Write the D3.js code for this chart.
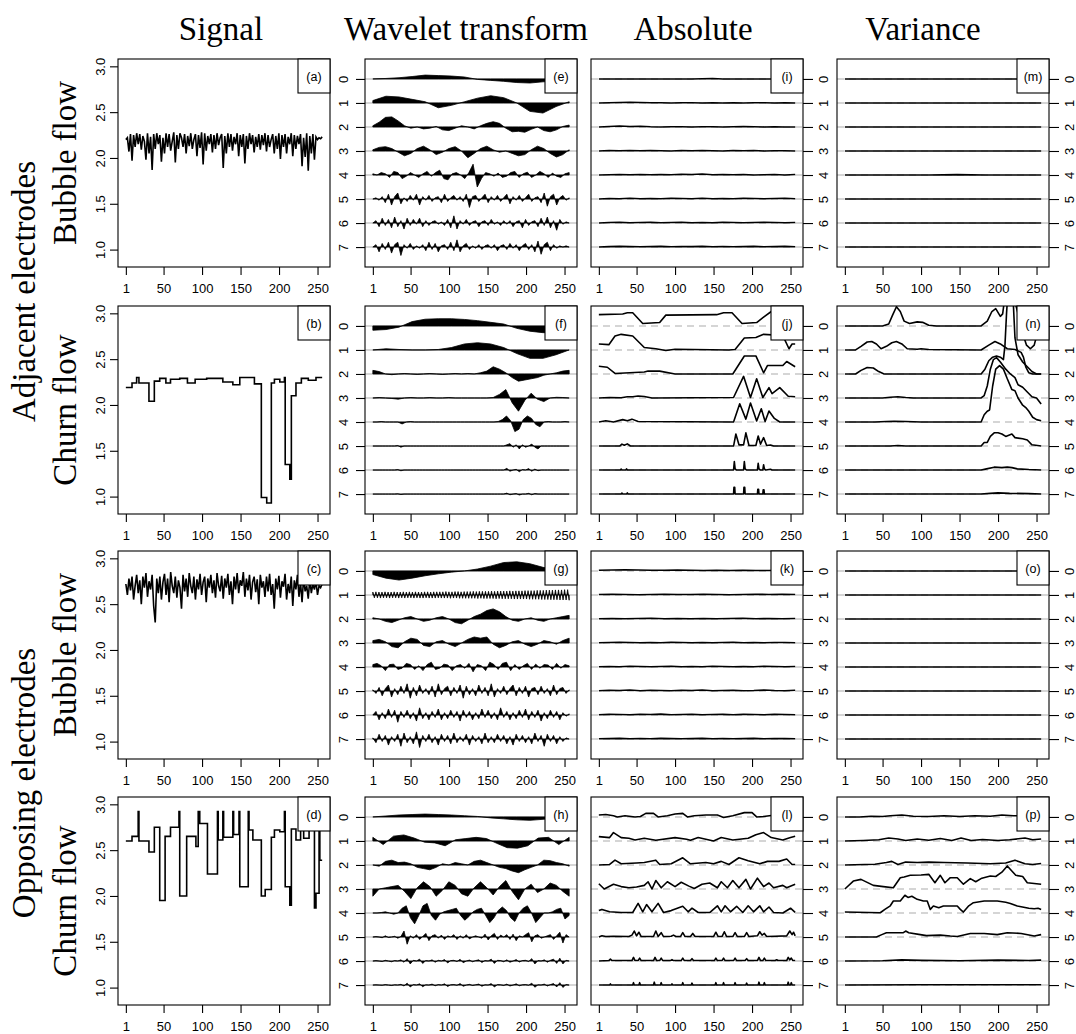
<!DOCTYPE html>
<html><head><meta charset="utf-8">
<script src="https://cdn.jsdelivr.net/npm/d3@7"></script>
<style>body{margin:0;background:#fff}</style>
</head><body><script>
// ---------------- DATA ----------------
const colTitles=["Signal","Wavelet transform","Absolute","Variance"];
const groupLabels=["Adjacent electrodes","Opposing electrodes"];
const rowLabels=["Bubble flow","Churn flow","Bubble flow","Churn flow"];
const panelLetters=["a","b","c","d","e","f","g","h","i","j","k","l","m","n","o","p"];
const xTicks=[1,50,100,150,200,250];
const sigTicks=[1.0,1.5,2.0,2.5,3.0];
const levels=[0,1,2,3,4,5,6,7];

// signals (a),(c): evenly sampled values over samples 1..256
const signalA=[2.20,2.22,2.07,2.26,1.97,2.25,2.12,2.27,2.15,2.26,2.09,2.24,2.18,1.98,2.27,2.05,2.23,1.87,2.26,2.10,2.27,2.15,2.25,1.96,2.22,2.05,2.27,2.12,2.26,2.08,2.18,2.28,1.95,2.25,2.10,2.27,2.22,2.12,2.26,2.05,2.24,2.13,2.27,2.10,2.20,2.26,2.02,2.25,2.11,2.28,1.93,2.27,2.08,2.24,2.15,2.26,2.06,2.25,2.10,2.27,2.14,2.22,2.26,1.89,2.24,2.05,2.27,2.12,2.26,2.08,2.23,2.15,2.27,2.02,2.25,2.12,2.26,1.94,2.24,2.10,2.27,2.15,2.25,2.06,2.23,2.12,2.26,2.09,2.25,2.14,2.27,2.07,2.25,2.12,2.20,2.26,2.05,2.24,2.10,2.27,1.99,2.25,2.12,2.26,2.05,2.23,2.15,2.27,2.02,2.25,2.10,2.24,2.15,2.26,1.91,2.22,2.01,2.27,1.86,2.24,2.05,2.26,1.98,2.23,2.20,2.22,2.21,2.23];
const signalC=[2.72,2.60,2.78,2.65,2.80,2.55,2.70,2.82,2.62,2.76,2.50,2.80,2.68,2.84,2.58,2.75,2.66,2.82,2.48,2.30,2.78,2.62,2.80,2.55,2.74,2.83,2.60,2.78,2.52,2.85,2.70,2.62,2.80,2.57,2.76,2.68,2.45,2.82,2.64,2.78,2.58,2.84,2.70,2.62,2.80,2.55,2.77,2.66,2.83,2.60,2.74,2.80,2.52,2.78,2.68,2.82,2.62,2.76,2.57,2.84,2.70,2.64,2.81,2.56,2.78,2.68,2.83,2.60,2.75,2.50,2.80,2.66,2.84,2.62,2.76,2.70,2.85,2.58,2.78,2.65,2.82,2.55,2.74,2.80,2.63,2.77,2.50,2.82,2.68,2.75,2.58,2.80,2.64,2.83,2.60,2.72,2.45,2.78,2.66,2.81,2.57,2.75,2.69,2.83,2.55,2.72,2.62,2.80,2.48,2.76,2.66,2.82,2.58,2.74,2.52,2.79,2.64,2.70,2.56,2.77,2.62,2.72,2.66,2.75,2.60,2.70,2.68,2.72];
// signals (b),(d): piecewise constant — segment start sample and value
const signalBStart=[1,9,15,18,31,38,45,53,59,71,81,91,106,127,140,149,168,177,184,190,194,201,207,208,214,216,222,229,238,248];
const signalBValue=[2.19,2.24,2.30,2.24,2.04,2.26,2.29,2.24,2.28,2.29,2.24,2.28,2.29,2.25,2.22,2.30,2.23,0.99,0.93,2.24,2.28,2.25,2.30,1.35,1.19,2.10,2.24,2.29,2.27,2.30];
const signalDStart=[1,9,17,18,31,38,45,52,59,70,71,80,92,95,97,107,120,121,127,128,140,141,148,149,160,161,166,177,182,190,194,201,207,208,214,216,222,228,232,239,246,248,252,253];
const signalDValue=[2.60,2.65,2.92,2.60,2.48,2.75,1.95,2.65,2.75,2.92,2.00,2.65,2.54,2.92,2.79,2.24,2.92,2.61,2.92,2.64,2.92,2.67,2.92,2.10,2.92,2.72,2.61,2.00,2.07,2.64,2.72,2.70,2.92,2.10,1.90,2.73,2.61,2.73,2.63,2.73,1.87,2.03,2.92,2.39];

// wavelet coefficients per level (in units of level spacing, + = up), evenly sampled 1..256
const waveE=[
[0.0,0.02,0.05,0.1,0.16,0.14,0.12,0.08,-0.02,-0.06,-0.1,-0.15,-0.17,-0.12,-0.1,-0.08],
[0.1,0.28,0.25,0.15,0.05,-0.2,-0.1,0.05,0.2,0.3,0.22,0.0,-0.35,-0.42,-0.15,0.05],
[0.05,0.2,0.4,0.42,0.25,0.05,-0.05,0.0,-0.08,-0.05,0.02,-0.12,-0.15,-0.05,0.05,0.0,-0.08,0.05,0.15,0.22,0.15,-0.05,-0.2,-0.18,-0.22,-0.1,0.0,-0.15,-0.2,-0.12,0.02,0.08],
[0.05,0.15,0.18,0.1,-0.05,-0.2,-0.1,0.1,0.2,0.05,-0.15,-0.05,0.1,0.18,0.0,-0.28,-0.1,0.1,0.2,0.05,-0.05,0.0,-0.1,-0.2,-0.15,0.05,0.2,0.1,-0.1,-0.25,-0.15,0.05],
[0.05,0.0,0.1,0.05,-0.1,0.15,0.1,-0.15,-0.05,0.1,0.0,-0.1,0.05,0.15,-0.05,0.1,0.2,-0.15,-0.2,0.05,0.1,0.0,-0.15,0.1,0.45,-0.5,-0.15,0.1,0.05,-0.05,0.08,-0.1,-0.05,0.1,0.15,-0.1,0.05,0.12,-0.1,0.0,0.15,0.05,-0.1,0.08,-0.05,-0.1,0.05,0.1],
[0.0,0.05,-0.05,0.1,-0.15,0.2,-0.25,0.1,0.25,-0.2,0.05,-0.1,0.15,-0.05,0.2,-0.25,0.1,-0.05,0.15,-0.1,0.05,0.1,-0.15,0.2,-0.1,0.05,0.15,-0.05,0.1,-0.1,0.2,-0.35,0.1,0.15,-0.1,0.05,0.2,-0.15,0.1,-0.05,0.15,-0.1,0.05,0.2,-0.2,0.1,-0.05,0.15,-0.1,0.05,0.2,-0.1,0.05,0.1,-0.15,0.25,-0.3,0.1,0.2,-0.25,0.05,0.15,-0.05,0.05],
[0.0,0.1,-0.15,0.2,-0.1,0.15,-0.2,0.25,-0.15,0.1,-0.25,0.2,-0.1,0.15,-0.05,0.2,-0.15,0.1,-0.1,0.05,0.1,-0.05,0.05,-0.1,0.15,-0.2,0.3,-0.25,0.1,-0.05,0.15,-0.1,0.05,0.1,-0.15,0.05,0.1,-0.1,0.15,-0.05,0.05,-0.1,0.1,-0.05,0.1,-0.15,0.05,0.1,-0.2,0.15,-0.1,0.05,0.1,-0.15,0.2,-0.1,0.25,-0.2,0.1,-0.3,0.15,-0.05,0.05,0.0],
[0.0,0.1,-0.2,0.15,-0.1,0.2,-0.25,0.1,0.2,-0.35,0.1,-0.05,0.15,-0.1,0.05,-0.05,0.1,-0.15,0.2,-0.1,0.15,-0.2,0.05,0.1,-0.1,0.2,-0.15,0.3,-0.2,0.05,0.15,-0.1,0.05,-0.05,0.1,-0.1,0.05,0.1,-0.05,0.1,-0.15,0.05,0.1,-0.1,0.15,-0.05,0.1,-0.15,0.05,0.15,-0.1,0.1,-0.2,0.25,-0.3,0.1,0.2,-0.15,0.1,-0.05,0.05,0.0,0.05,0.0]];
const waveF=[
[-0.18,-0.15,-0.05,0.18,0.28,0.3,0.3,0.27,0.22,0.15,0.08,-0.1,-0.22,-0.28,-0.28,-0.25],
[0.0,0.05,0.02,0.0,0.0,0.02,0.1,0.25,0.3,0.25,0.1,-0.15,-0.35,-0.35,-0.2,0.0],
[0.15,0.1,0.0,-0.03,0.0,0.02,0.0,-0.02,0.0,0.02,0.0,-0.02,0.0,0.02,0.0,0.02,0.0,0.05,0.12,0.3,0.2,0.05,-0.15,-0.3,-0.25,-0.2,-0.15,-0.05,0.0,0.05,0.12,0.15],
[0.0,0.02,0.0,-0.02,-0.05,0.0,0.02,0.0,0.0,0.02,0.0,0.0,0.02,0.0,0.0,0.0,0.0,0.0,0.0,0.02,0.15,0.35,-0.2,-0.55,-0.1,0.2,-0.05,-0.15,0.0,0.03,0.02,0.0],
[0,0,0.02,0,0,0,0,-0.08,0,0.02,0,0,0,0,0,0,0,0,0,0,0,0,0,0,0,0,0,0,0,0,0.02,0.1,0.25,0.05,-0.4,-0.3,0.1,0.25,0.15,-0.1,-0.2,0.0,0.02,0,0,0,0.02,0],
[0,0,0,0,0,0,0,0,0.02,-0.05,0,0,0,0,0,0,0,0,0,0,0,0,0,0,0,0,0,0,0,0,0,0,0,0,0,0,0,0,0,0,0,0,0,0.05,0.1,-0.05,0.05,-0.12,0.05,-0.05,0,0.08,-0.05,-0.12,0,0,0,0,0,0,0,0,0,0],
[0,0,0,0,0,0,0,0,0.02,-0.03,0,0,0,0,0,0,0,0,0,0,0,0,0,0,0,0,0,0,0,0,0,0,0,0,0,0,0,0,0,0,0,0,0,0.07,-0.05,0,0.03,-0.07,0.02,0,0.06,-0.05,0.04,-0.03,0,0,0,0,0,0,0,0,0,0],
[0,0,0,0,0,0,0,0,0.01,-0.02,0,0,0,0,0,0,0,0,0,0,0,0,0,0,0,0,0,0,0,0,0,0,0,0,0,0,0,0,0,0,0,0,0,0.04,-0.03,0,0.02,-0.04,0,0,0.03,-0.03,0.02,0,0,0,0,0,0,0,0,0,0,0]];
const waveG=[
[-0.15,-0.3,-0.38,-0.3,-0.2,-0.12,-0.05,0.0,0.08,0.2,0.35,0.38,0.3,0.15,0.05,0.0],
[0.12,-0.12,0.13,-0.12,0.12,-0.13,0.12,-0.12,0.13,-0.12,0.12,-0.13,0.12,-0.12,0.13,-0.12,0.12,-0.13,0.12,-0.12,0.13,-0.13,0.12,-0.12,0.13,-0.12,0.12,-0.13,0.13,-0.12,0.12,-0.13,
 0.12,-0.13,0.13,-0.12,0.13,-0.13,0.12,-0.13,0.13,-0.13,0.13,-0.12,0.13,-0.13,0.13,-0.13,0.14,-0.13,0.13,-0.14,0.13,-0.13,0.14,-0.13,0.14,-0.14,0.13,-0.14,0.14,-0.14,0.14,-0.14,
 0.14,-0.14,0.15,-0.14,0.14,-0.15,0.15,-0.14,0.15,-0.15,0.15,-0.15,0.15,-0.15,0.16,-0.15,0.15,-0.16,0.16,-0.15,0.16,-0.16,0.16,-0.16,0.16,-0.16,0.17,-0.16,0.16,-0.17,0.17,-0.17,
 0.17,-0.17,0.17,-0.17,0.18,-0.17,0.18,-0.18,0.18,-0.18,0.18,-0.18,0.19,-0.18,0.19,-0.19,0.19,-0.19,0.2,-0.19,0.2,-0.2,0.2,-0.2,0.21,-0.2,0.21,-0.21,0.21,-0.21,0.22,-0.21,0.22,-0.22],
[0.05,0.0,-0.1,-0.15,-0.05,0.05,0.1,0.0,-0.1,-0.05,0.05,0.1,0.0,-0.15,-0.2,-0.05,0.1,0.2,0.35,0.42,0.3,0.1,-0.05,-0.1,0.0,0.05,-0.05,-0.1,0.0,0.05,0.1,0.15],
[0.1,0.15,0.05,-0.15,-0.2,0.05,0.2,0.15,-0.1,-0.15,0.05,0.1,-0.05,-0.15,0.0,0.15,0.25,0.2,0.25,-0.05,-0.2,-0.1,0.05,0.1,-0.05,-0.15,-0.05,0.1,0.05,-0.05,0.1,0.2],
[0.1,0.15,0.05,-0.15,0.1,0.12,-0.1,-0.05,0.15,0.1,-0.1,0.05,-0.15,0.1,0.2,-0.1,-0.05,0.12,0.08,-0.15,0.05,0.1,-0.05,0.15,-0.2,0.1,0.05,-0.15,0.2,0.1,-0.1,0.15,0.2,-0.15,0.1,-0.1,0.05,0.15,-0.1,0.12,-0.05,0.1,0.08,-0.1,0.15,-0.05,0.1,0.05],
[0.05,-0.1,0.15,-0.2,0.1,0.25,-0.25,0.1,-0.15,0.2,-0.1,0.3,-0.3,0.15,-0.2,0.25,-0.1,0.1,-0.15,0.2,-0.25,0.3,-0.15,0.1,0.2,-0.2,0.15,-0.1,0.25,-0.3,0.2,-0.15,0.1,-0.2,0.25,-0.1,0.15,-0.2,0.3,-0.25,0.1,-0.1,0.2,-0.15,0.1,0.25,-0.2,0.15,-0.1,0.2,-0.25,0.1,0.15,-0.15,0.2,-0.1,0.1,-0.2,0.25,-0.15,0.1,0.15,-0.1,0.05],
[0.0,0.15,-0.2,0.1,-0.15,0.25,-0.1,0.2,-0.3,0.15,-0.1,0.2,-0.15,0.1,-0.25,0.3,-0.15,0.1,-0.2,0.15,-0.1,0.25,-0.2,0.1,-0.15,0.2,-0.1,0.15,-0.25,0.2,-0.1,0.15,-0.2,0.1,-0.15,0.25,-0.1,0.2,-0.15,0.1,-0.2,0.3,-0.1,0.15,-0.2,0.1,-0.15,0.2,-0.1,0.25,-0.2,0.15,-0.1,0.2,-0.25,0.1,-0.15,0.2,-0.1,0.15,-0.2,0.1,-0.05,0.05],
[0.05,-0.15,0.2,-0.1,0.15,-0.25,0.1,-0.1,0.2,-0.3,0.25,-0.15,0.1,-0.2,0.3,-0.35,0.15,-0.1,0.2,-0.15,0.1,-0.25,0.2,-0.1,0.15,-0.2,0.25,-0.15,0.1,-0.1,0.2,-0.25,0.15,-0.1,0.1,-0.2,0.25,-0.15,0.1,-0.15,0.2,-0.1,0.15,-0.2,0.1,-0.25,0.2,-0.1,0.15,-0.15,0.1,-0.2,0.25,-0.1,0.15,-0.3,0.2,-0.1,0.15,-0.2,0.1,-0.1,0.05,0.0]];
const waveH=[
[0.0,0.04,0.08,0.1,0.12,0.1,0.08,0.05,0.02,-0.04,-0.08,-0.12,-0.14,-0.1,-0.05,-0.03],
[0.15,-0.15,0.2,0.25,0.12,-0.05,-0.08,-0.2,0.05,0.1,0.15,0.1,-0.1,-0.28,-0.3,-0.2,0.12,0.15,-0.15,0.15],
[0.0,-0.05,0.15,0.2,0.1,0.12,0.05,-0.1,-0.15,-0.2,-0.1,0.05,0.0,0.1,0.05,0.0,0.15,0.2,0.1,0.0,-0.1,-0.15,-0.25,-0.32,-0.2,-0.1,0.0,0.2,0.18,0.1,0.05,-0.05],
[-0.3,0.0,0.05,0.1,0.15,-0.1,-0.4,0.05,0.3,0.1,-0.3,-0.05,0.3,0.15,-0.2,-0.3,0.05,0.3,0.05,-0.25,0.1,0.35,-0.1,-0.45,0.0,0.2,-0.15,0.0,0.25,0.15,-0.1,-0.3],
[0.0,0.0,0.02,0.05,0.0,-0.05,0.0,0.2,0.3,-0.2,-0.45,-0.1,0.3,0.4,-0.1,-0.3,-0.05,0.05,0.1,0.15,0.2,-0.1,-0.3,-0.15,0.05,0.15,0.2,-0.1,-0.4,-0.2,0.1,0.25,0.1,-0.2,-0.35,0.0,0.2,0.3,0.0,-0.4,-0.2,0.0,0.0,0.05,0.15,0.2,-0.25,-0.1],
[0,0.02,0,-0.03,0.05,-0.02,0,0.03,-0.05,0.02,0.25,-0.3,0.05,-0.05,0.1,-0.1,0.02,0.15,-0.15,0.05,0.1,-0.05,0.08,-0.1,0.05,0,0.1,-0.1,0.05,-0.05,0.1,-0.08,0,0.05,0,-0.05,0.12,-0.12,0.05,0.15,-0.1,0.08,0,0.1,-0.1,0.12,-0.15,0.05,0,0.1,0.18,-0.2,0.05,0.1,-0.05,0,0.05,0.1,-0.1,0.05,0.2,-0.25,0.1,0],
[0,0.02,0,-0.02,0.03,0,-0.03,0.02,0,0.05,-0.05,0.1,-0.12,0.03,0,0.08,-0.1,0.02,0,0.05,-0.05,0.03,0,0.06,-0.08,0.02,0.03,-0.02,0.07,-0.07,0,0.04,-0.03,0.02,0.05,-0.06,0.02,0,0.08,-0.1,0.03,0.02,-0.03,0.05,-0.05,0,0.06,-0.04,0.02,0.03,-0.02,0.1,-0.12,0.02,0,0.05,-0.05,0.03,0.08,-0.1,0.12,-0.12,0.03,0],
[0,0.01,0,-0.01,0.02,0,-0.02,0.01,0,0.03,-0.04,0.08,-0.08,0.02,0,0.05,-0.07,0.01,0,0.04,-0.03,0.02,0,0.05,-0.06,0.01,0.02,-0.01,0.06,-0.05,0,0.03,-0.02,0.01,0.04,-0.05,0.01,0,0.06,-0.08,0.02,0.01,-0.02,0.04,-0.04,0,0.05,-0.03,0.01,0.02,-0.01,0.08,-0.09,0.01,0,0.04,-0.04,0.02,0.06,-0.08,0.1,-0.1,0.02,0]];

// absolute / variance curves: either evenly sampled values, or [sample, value] breakpoints
const absI=[
[0,0,0,0,0,0,0,0,0,0,0.01,0.02,0,0,0,0,0,0,0,0],
[0,0.01,0.02,0.03,0.02,0.01,0.01,0,0.01,0.01,0,0.01,0,0.01,0,0.01,0.01,0,0.01,0],
[0,0.02,0.04,0.02,0.03,0.01,0,0.01,0.01,0,0.01,0.01,0,0.01,0.02,0.01,0,0.01,0,0],
[0,0.02,0.01,0.02,0.01,0.02,0.01,0,0.02,0.01,0.02,0.01,0,0.02,0.01,0.02,0,0.01,0.01,0],
[0,0.01,0.02,0.01,0.02,0.01,0.02,0.01,0.03,0.02,0.04,0.01,0.02,0.01,0.02,0,0.01,0.02,0,0.02],
[0,0.02,0.01,0.03,0.01,0.02,0.01,0.03,0.02,0.01,0.03,0.01,0.02,0.01,0.03,0.02,0.01,0.02,0.03,0.01],
[0,0.02,0.03,0.01,0.02,0.03,0.01,0.02,0.03,0.01,0.02,0.01,0.03,0.02,0.01,0.02,0.03,0.02,0.01,0.02],
[0,0.02,0.03,0.02,0.01,0.02,0.03,0.01,0.02,0.02,0.03,0.01,0.02,0.01,0.02,0.03,0.01,0.02,0.03,0.01]];
const absJ=[
[[1,0.47],[32,0.5],[38,0.55],[45,0.55],[58,0.1],[80,0.14],[88,0.45],[154,0.47],[163,0.55],[174,0.55],[187,0.1],[206,0.14],[215,0.37],[225,0.6],[245,0.55],[256,0.5]],
[[1,0.25],[14,0.22],[22,0.58],[30,0.65],[45,0.58],[60,0.1],[75,0.05],[88,-0.02],[100,0.03],[170,0.0],[178,0.02],[190,0.5],[205,0.52],[215,0.65],[240,0.6],[248,0.05],[252,0.25],[256,0.25]],
[[1,0.32],[12,0.28],[22,0.02],[60,0.08],[65,0.12],[80,0.12],[100,0.0],[175,0.0],[190,0.75],[205,0.75],[215,0.05],[220,0.35],[240,0.35],[245,0.52],[256,0.3]],
[[1,0],[15,0.02],[30,0.01],[38,0.05],[45,0.05],[52,0.08],[60,0.06],[70,0.0],[176,0.02],[189,0.9],[198,0.02],[206,0.8],[214,0.02],[222,0.43],[226,0.18],[236,0.43],[247,0.07],[256,0.05]],
[[1,0],[10,0.05],[20,0.0],[32,0.1],[38,0.05],[44,0.12],[52,0.02],[176,0.0],[184,0.76],[192,0.12],[198,0.79],[206,0.04],[212,0.55],[217,0.02],[222,0.46],[229,0.15],[236,0.0],[256,0.0]],
[[1,0],[28,0.0],[31,0.08],[34,0.03],[38,0.09],[42,0.0],[176,0.0],[179,0.5],[183,0.05],[189,0.05],[192,0.55],[196,0.02],[205,0.02],[208,0.42],[211,0.08],[215,0.35],[219,0.02],[224,0.04],[228,0.0],[256,0.0]],
[[1,0],[29,0],[30,0.04],[31,0],[36,0],[37,0.05],[38,0],[176,0],[177,0.35],[178,0.05],[180,0],[189,0],[190,0.35],[191,0.05],[193,0],[207,0],[208,0.28],[209,0.05],[211,0],[214,0],[215,0.22],[216,0.05],[218,0],[224,0.03],[226,0],[256,0]],
[[1,0],[30,0],[31,0.04],[32,0],[37,0],[38,0.05],[39,0],[176,0],[176.5,0.28],[177.5,0.28],[178,0],[189,0],[189.5,0.28],[190.5,0.28],[191,0],[207,0],[207.5,0.2],[208.5,0.2],[209,0],[214,0],[214.5,0.18],[215.5,0.18],[216,0],[256,0]]];
const absK=[
[0.03,0.04,0.05,0.04,0.03,0.03,0.04,0.03,0.02,0.03,0.02,0.03,0.02,0.02,0.03,0.03],
[0.02,0.03,0.02,0.01,0.02,0.03,0.02,0.02,0.03,0.02,0.01,0.02,0.03,0.02,0.03,0.02],
[0.01,0.02,0.01,0.02,0.03,0.01,0.02,0.01,0.02,0.01,0.02,0.03,0.01,0.02,0.01,0.02],
[0.01,0.02,0.03,0.02,0.01,0.02,0.01,0.03,0.02,0.01,0.02,0.01,0.02,0.03,0.01,0.02,0.01,0.02,0.02,0.01],
[0.01,0.02,0.01,0.03,0.02,0.01,0.02,0.03,0.01,0.02,0.01,0.03,0.02,0.01,0.02,0.01,0.03,0.02,0.01,0.02],
[0.01,0.03,0.02,0.04,0.01,0.03,0.02,0.01,0.03,0.02,0.04,0.01,0.02,0.03,0.01,0.02,0.04,0.02,0.01,0.03],
[0.01,0.03,0.02,0.01,0.03,0.02,0.04,0.01,0.02,0.03,0.01,0.02,0.03,0.01,0.03,0.02,0.01,0.03,0.02,0.01],
[0.01,0.02,0.03,0.01,0.02,0.01,0.03,0.02,0.01,0.02,0.03,0.01,0.02,0.01,0.02,0.03,0.01,0.02,0.02,0.01]];
const absL=[
[[1,0.08],[10,0.1],[20,0.05],[25,0],[35,0.05],[48,0],[55,0.02],[62,0.15],[72,0.15],[78,0],[90,0.05],[100,0.12],[110,0.15],[116,0],[125,0.05],[140,0.08],[155,0.08],[163,-0.02],[175,0.05],[190,0.18],[200,0.18],[206,0],[215,0.02],[230,0.08],[240,0.05],[256,0.05]],
[[1,0.18],[15,0.14],[20,0.35],[30,0.14],[40,0.11],[48,0.04],[60,0.11],[75,0.03],[100,0.14],[115,0.07],[120,0.03],[130,0.14],[140,0.07],[150,0],[160,0.14],[175,0.04],[195,0.11],[205,0.26],[215,0.35],[225,0.14],[240,0.04],[250,0.14],[256,0.2]],
[[1,0],[15,0.02],[22,0.2],[30,0.05],[50,0.08],[60,0.1],[75,0.2],[80,0.02],[95,0.05],[110,0.3],[120,0.05],[140,0.1],[150,0.05],[160,0.15],[170,0.02],[183,0.3],[195,0.18],[210,0.05],[220,0.15],[235,0.15],[245,0.25],[252,0.02],[256,0.02]],
[[1,0.22],[8,0],[20,0.2],[30,0.1],[40,0.05],[50,0.08],[60,0.15],[65,0.3],[70,0],[75,0.35],[82,0.05],[90,0.3],[100,0.1],[108,0.28],[118,0.12],[125,0.02],[135,0.2],[145,0.25],[155,0.05],[160,0.3],[168,0.05],[175,0.35],[183,0.05],[192,0.4],[198,0],[207,0.45],[215,0.1],[222,0.25],[228,0.05],[240,0.15],[245,0.05],[256,0.2]],
[[1,0.1],[5,0.15],[15,0.05],[30,0.02],[45,0.02],[52,0.4],[58,0.05],[63,0.35],[70,0.05],[78,0.4],[85,0.02],[95,0.1],[110,0.28],[117,0.05],[122,0.2],[130,0.02],[145,0.02],[155,0.3],[160,0.05],[165,0.3],[172,0.05],[180,0.28],[188,0.02],[195,0.3],[202,0.05],[210,0.3],[215,0.05],[222,0.25],[228,0.02],[240,0],[250,0.2],[256,0.03]],
[[1,0],[5,0.05],[10,0.02],[20,0.03],[40,0.02],[44,0.08],[47,0.25],[50,0.05],[53,0.2],[56,0.02],[72,0.02],[75,0.25],[78,0.02],[82,0.18],[85,0.02],[95,0.03],[98,0.08],[101,0.02],[107,0.02],[110,0.18],[113,0.02],[120,0.02],[123,0.15],[126,0.02],[150,0.02],[153,0.2],[156,0.02],[161,0.02],[164,0.22],[167,0.02],[175,0.02],[178,0.18],[181,0.02],[190,0.02],[193,0.18],[196,0.02],[207,0.05],[210,0.22],[213,0.08],[216,0.15],[219,0.02],[230,0.03],[245,0.05],[249,0.25],[252,0.1],[254,0.2],[256,0.05]],
[[1,0],[14,0.02],[16,0.08],[18,0.02],[44,0.02],[46,0.15],[48,0.02],[52,0.02],[54,0.12],[56,0.02],[72,0.02],[74,0.15],[76,0.02],[80,0.02],[82,0.12],[84,0.02],[94,0.02],[96,0.06],[98,0.02],[108,0.02],[110,0.12],[112,0.02],[120,0.02],[122,0.1],[124,0.02],[151,0.02],[153,0.12],[155,0.02],[161,0.02],[163,0.12],[165,0.02],[176,0.02],[178,0.12],[180,0.02],[191,0.02],[193,0.1],[195,0.02],[207,0.02],[209,0.15],[211,0.02],[214,0.02],[216,0.12],[218,0.02],[230,0.02],[232,0.05],[234,0.02],[245,0.02],[247,0.15],[249,0.05],[251,0.12],[253,0.02],[256,0.02]],
[[1,0],[15,0],[16,0.05],[17,0],[45,0],[46,0.1],[47,0],[53,0],[54,0.1],[55,0],[72,0],[73,0.12],[74,0],[81,0],[82,0.1],[83,0],[95,0],[96,0.05],[97,0],[109,0],[110,0.1],[111,0],[121,0],[122,0.08],[123,0],[152,0],[153,0.1],[154,0],[162,0],[163,0.1],[164,0],[177,0],[178,0.1],[179,0],[192,0],[193,0.08],[194,0],[208,0],[209,0.12],[210,0],[215,0],[216,0.1],[217,0],[246,0],[247,0.12],[248,0],[250,0],[251,0.1],[252,0],[256,0]]];
const varM=[[0,0,0,0],[0,0,0,0],[0,0,0,0],[0,0,0,0],[0,0,0,0,0.015,0,0,0],[0,0,0,0],[0,0,0,0],[0,0,0,0]];
const varN=[
[[1,0],[50,0],[58,0.08],[63,0.45],[68,0.8],[73,0.6],[78,0.2],[85,0.1],[95,0.17],[102,0.15],[110,0.03],[120,0],[178,0],[186,0.2],[192,0.6],[197,0.72],[203,0.4],[206,0.5],[210,1.5],[214,3],[219,3],[222,1],[226,0.5],[232,-0.3],[237,-0.8],[242,-0.95],[247,-0.8],[251,-0.3],[256,0.5]],
[[1,0],[15,0],[22,0.15],[30,0.33],[36,0.35],[42,0.25],[48,0.05],[55,0.15],[62,0.3],[68,0.35],[75,0.25],[82,0.05],[95,0.03],[100,0.05],[110,0.02],[178,0],[188,0.2],[196,0.35],[203,0.25],[212,0.05],[222,0.02],[230,-0.1],[233,-0.3],[236,-0.7],[240,-0.95],[245,-1.0],[256,-1.0]],
[[1,0],[15,0],[22,0.15],[30,0.27],[38,0.25],[45,0.1],[52,0],[178,0],[183,0.2],[188,0.55],[193,0.7],[198,0.75],[203,0.7],[207,0.6],[209,1.2],[211,2.5],[213,3.5],[219,3.5],[222,1.5],[226,0.8],[232,0.5],[238,0.3],[244,0.1],[250,0],[256,0]],
[[1,0],[50,0],[60,0.03],[70,0.05],[80,0.02],[90,0],[178,0],[182,0.1],[186,0.5],[190,1.2],[194,1.6],[198,1.68],[203,1.5],[210,1.2],[216,1.0],[222,0.85],[226,0.55],[232,0.45],[238,0.25],[244,0.05],[250,0.0],[256,-0.25]],
[[1,0],[40,0],[55,0.02],[65,0.03],[80,0.02],[100,0],[178,0],[182,0.3],[186,0.45],[189,0.5],[193,1.5],[197,2.2],[202,2.35],[207,2.2],[212,1.8],[218,1.35],[222,1.3],[226,1.0],[232,0.7],[236,0.6],[240,0.45],[245,0.2],[250,0.1],[256,0.05]],
[[1,0],[60,0],[70,0.02],[80,0],[178,0],[182,0.15],[186,0.15],[190,0.4],[195,0.55],[200,0.55],[205,0.5],[210,0.4],[214,0.45],[218,0.5],[222,0.35],[226,0.33],[232,0.3],[238,0.25],[244,0.05],[256,0]],
[[1,0],[178,0],[185,0.05],[195,0.12],[205,0.1],[212,0.12],[218,0.1],[225,0.05],[240,0.02],[256,0]],
[[1,0],[178,0],[190,0.03],[200,0.05],[215,0.03],[240,0.02],[256,0]]];
const varO=[[0,0,0,0],[0,0,0,0],[0,0,0,0],[0,0,0,0],[0,0,0,0],[0,0,0,0],[0,0,0,0],[0,0,0,0]];
const varP=[
[[1,0],[20,0],[35,0.03],[50,0.02],[60,0.05],[75,0.08],[90,0.03],[110,0.02],[130,0.05],[150,0.02],[170,0.05],[190,0.03],[205,0.08],[220,0.05],[256,0.06]],
[[1,0],[25,0.02],[45,0.05],[58,0.12],[70,0.08],[80,0.02],[95,0.08],[110,0.03],[125,0.1],[140,0.02],[152,0.12],[165,0.02],[180,0.06],[200,0.02],[215,0.05],[235,0.12],[245,0.05],[256,0.08]],
[[1,0],[40,0.03],[55,0.1],[62,0.15],[70,0.02],[80,0.12],[95,0.1],[110,0.12],[130,0.1],[160,0.08],[190,0.05],[210,0.08],[222,0.2],[235,0.05],[245,0.02],[256,0.06]],
[[1,0],[12,0.33],[22,0.4],[38,0.15],[51,0.1],[64,0.05],[73,0.47],[78,0.5],[86,0.57],[100,0.58],[110,0.61],[118,0.26],[125,0.57],[131,0.26],[138,0.47],[147,0.47],[155,0.2],[164,0.43],[171,0.3],[179,0.45],[190,0.54],[197,0.52],[205,0.7],[212,0.96],[223,0.57],[232,0.52],[238,0.26],[256,0.2]],
[[1,0.04],[47,0.01],[53,0.15],[60,0.3],[64,0.5],[73,0.5],[79,0.74],[83,0.65],[88,0.7],[95,0.57],[103,0.5],[108,0.5],[112,0.15],[116,0.29],[123,0.22],[129,0.29],[147,0.29],[151,0.15],[155,0.04],[162,0.3],[168,0.43],[182,0.5],[199,0.5],[210,0.45],[216,0.4],[225,0.29],[240,0.2],[247,0.18],[252,0.2],[256,0.15]],
[[1,0],[42,0],[49,0.1],[55,0.18],[77,0.18],[80,0.25],[84,0.18],[99,0.1],[107,0.06],[125,0.08],[138,0.04],[147,0.02],[164,0.15],[182,0.15],[199,0.1],[212,0.18],[230,0.15],[247,0.04],[256,0.1]],
[[1,0],[50,0.01],[75,0.05],[100,0.03],[150,0.01],[200,0.04],[240,0.02],[256,0.04]],
[[1,0],[100,0.01],[256,0.01]]];

// ---------------- DRAWING ----------------
const W=1076,H=1034;
const colX=[118,365,591,837], PW=212, rowY=[59,306,551,797], PH=208;
const svg=d3.select("body").append("svg").attr("width",W).attr("height",H)
  .style("background","#fff").style("display","block");
const x=d3.scaleLinear().domain([-9.2,266.2]).range([0,PW]);
const ySig=d3.scaleLinear().domain([0.81,3.08]).range([PH,0]);
const yLev=d3.scaleLinear().domain([-0.83,7.83]).range([0,PH]);
const sans='"Liberation Sans", Arial, sans-serif';
const serif='"Liberation Serif", "DejaVu Serif", serif';

const evenPts=a=>a.map((v,k)=>[1+k*255/(a.length-1),v]);
const toPts=a=>(typeof a[0]==="number")?evenPts(a):a;
const stepPts=(s,v)=>{const p=s.map((t,k)=>[t,v[k]]);p.push([256,v[v.length-1]]);return p;};

const signals=[
  {pts:evenPts(signalA),step:false},
  {pts:stepPts(signalBStart,signalBValue),step:true},
  {pts:evenPts(signalC),step:false},
  {pts:stepPts(signalDStart,signalDValue),step:true}];
const waves=[waveE,waveF,waveG,waveH];
const absSets=[absI,absJ,absK,absL];
const varSets=[varM,varN,varO,varP];

let clipId=0;
function makePanel(c,r){
  const g=svg.append("g").attr("transform",`translate(${colX[c]},${rowY[r]})`);
  const id="clip"+(clipId++);
  g.append("clipPath").attr("id",id).append("rect").attr("width",PW).attr("height",PH);
  const inner=g.append("g").attr("clip-path",`url(#${id})`);
  return {g,inner};
}
function finishPanel(g,c,r){
  g.append("rect").attr("width",PW).attr("height",PH).attr("fill","none").attr("stroke","#000").attr("stroke-width",1.1);
  g.append("rect").attr("x",PW-32).attr("y",0).attr("width",32).attr("height",34)
    .attr("fill","#fff").attr("stroke","#000").attr("stroke-width",1.1);
  g.append("text").attr("x",PW-16).attr("y",22).attr("text-anchor","middle")
    .style("font-family",sans).style("font-size","12.5px").text("("+panelLetters[c*4+r]+")");
  const ax=g.append("g").attr("transform",`translate(0,${PH})`)
    .call(d3.axisBottom(x).tickValues(xTicks).tickSize(8).tickPadding(9).tickFormat(d3.format("d")));
  ax.select(".domain").remove();
  ax.selectAll("line").attr("stroke","#000").attr("stroke-width",1.1);
  ax.selectAll("text").style("font-family",sans).style("font-size","13px").attr("fill","#000");
}
function styleYAxis(ax,off){
  ax.select(".domain").remove();
  ax.selectAll("line").attr("stroke","#000").attr("stroke-width",1.1);
  ax.selectAll("text").attr("x",null).attr("dy",null).attr("y",null)
    .attr("transform",`translate(${off},0) rotate(-90)`).attr("text-anchor","middle")
    .style("font-family",sans).style("font-size","13px").attr("fill","#000");
}

for(let r=0;r<4;r++){
  {
    const {g,inner}=makePanel(0,r);
    const line=d3.line().x(d=>x(d[0])).y(d=>ySig(d[1]));
    if(signals[r].step) line.curve(d3.curveStepAfter);
    inner.append("path").attr("d",line(signals[r].pts)).attr("fill","none")
      .attr("stroke","#000").attr("stroke-width",1.6).attr("stroke-linejoin","miter");
    finishPanel(g,0,r);
    const ay=g.append("g").call(d3.axisLeft(ySig).tickValues(sigTicks).tickSize(8).tickFormat(d3.format(".1f")));
    styleYAxis(ay,-13);
  }
  {
    const {g,inner}=makePanel(1,r);
    levels.forEach(L=>{
      inner.append("line").attr("x1",0).attr("x2",PW).attr("y1",yLev(L)).attr("y2",yLev(L))
        .attr("stroke","#c8c8c8").attr("stroke-width",1.6);
    });
    levels.forEach(L=>{
      const area=d3.area().x(d=>x(d[0])).y0(yLev(L)).y1(d=>yLev(L-d[1]));
      inner.append("path").attr("d",area(evenPts(waves[r][L]))).attr("fill","#000")
        .attr("stroke","#000").attr("stroke-width",0.8);
    });
    finishPanel(g,1,r);
    const ay=g.append("g").call(d3.axisLeft(yLev).tickValues(levels).tickSize(9).tickFormat(d3.format("d")));
    styleYAxis(ay,-17);
  }
  [[2,absSets[r]],[3,varSets[r]]].forEach(([c,set])=>{
    const {g,inner}=makePanel(c,r);
    levels.forEach(L=>{
      inner.append("line").attr("x1",0).attr("x2",PW).attr("y1",yLev(L)).attr("y2",yLev(L))
        .attr("stroke","#c8c8c8").attr("stroke-width",1.4).attr("stroke-dasharray","7,5");
    });
    const line=d3.line().x(d=>x(d[0])).y(d=>yLev(d.L-d[1]));
    levels.forEach(L=>{
      const pts=toPts(set[L]).map(p=>{const q=[p[0],p[1]];q.L=L;return q;});
      inner.append("path").attr("d",line(pts)).attr("fill","none")
        .attr("stroke","#000").attr("stroke-width",1.6).attr("stroke-linejoin","round");
    });
    finishPanel(g,c,r);
    const ay=g.append("g").attr("transform",`translate(${PW},0)`)
      .call(d3.axisRight(yLev).tickValues(levels).tickSize(10).tickFormat(d3.format("d")));
    styleYAxis(ay,25);
  });
}

const titleX=[221,466,693,923];
colTitles.forEach((t,i)=>{
  svg.append("text").attr("x",titleX[i]).attr("y",40).attr("text-anchor","middle")
    .style("font-family",serif).style("font-size","33px").text(t);
});
rowLabels.forEach((t,r)=>{
  const cy=rowY[r]+PH/2;
  svg.append("text").attr("transform",`translate(76,${cy}) rotate(-90)`).attr("text-anchor","middle")
    .style("font-family",serif).style("font-size","33px").text(t);
});
groupLabels.forEach((t,k)=>{
  const cy=(rowY[2*k]+rowY[2*k+1]+PH)/2+5;
  svg.append("text").attr("transform",`translate(35,${cy}) rotate(-90)`).attr("text-anchor","middle")
    .style("font-family",serif).style("font-size","33px").text(t);
});
</script></body></html>
